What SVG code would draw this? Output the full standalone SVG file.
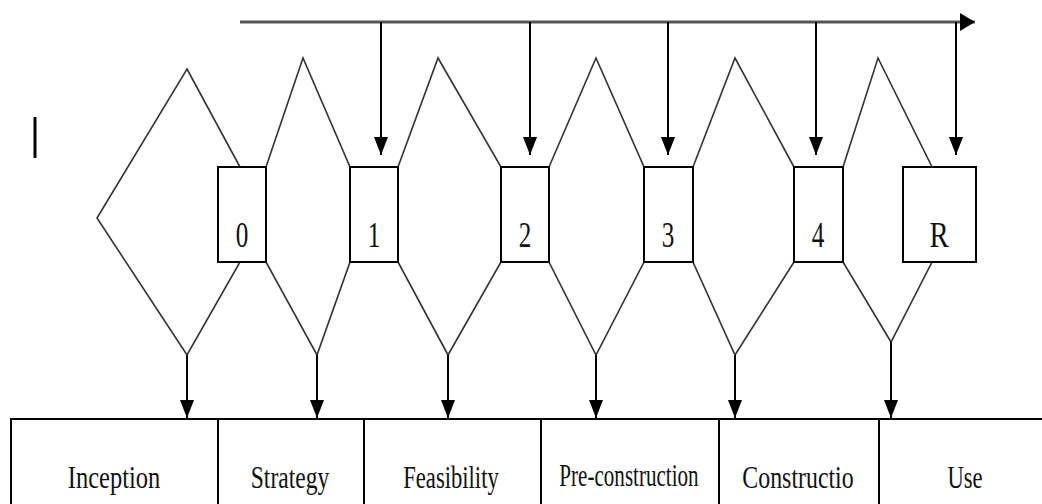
<svg xmlns="http://www.w3.org/2000/svg" width="1042" height="504" viewBox="0 0 1042 504">
  <style>
    .phase { fill: #fff; stroke: #333; stroke-width: 1.6; stroke-linejoin: miter; }
    .gate { fill: #fff; stroke: #000; stroke-width: 2; }
    .cell { fill: #fff; stroke: #000; stroke-width: 2; }
    .link { fill: none; stroke: #000; stroke-width: 2; }
    .feed { fill: none; stroke: #555; stroke-width: 3; }
    .num { font-family: "Liberation Serif", "Times New Roman", serif; font-size: 36px; fill: #111; text-anchor: middle; }
    .lbl { font-family: "Liberation Serif", "Times New Roman", serif; font-size: 31px; fill: #111; text-anchor: middle; }
  </style>
  <defs>
    <marker id="arrow" viewBox="0 0 18 14" refX="18" refY="7" markerWidth="18" markerHeight="14" markerUnits="userSpaceOnUse" orient="auto">
      <path d="M0,0 L18,7 L0,14 z" fill="#000"/>
    </marker>
    <marker id="arrowTop" viewBox="0 0 15 18" refX="15" refY="9" markerWidth="15" markerHeight="18" markerUnits="userSpaceOnUse" orient="auto">
      <path d="M0,0 L15,9 L0,18 z" fill="#000"/>
    </marker>
  </defs>

  <rect width="1042" height="504" fill="#fff"/>

  <!-- short vertical bar at left -->
  <line x1="35" y1="117" x2="35" y2="158" stroke="#000" stroke-width="3"/>

  <!-- phase diamonds -->
  <g id="phase-inception"><polygon class="phase" points="187,69 240,167 240,262 187,355 97,218"/></g>
  <g id="phase-strategy"><polygon class="phase" points="266,167 303,58 350,167 350,262 317,355 266,262"/></g>
  <g id="phase-feasibility"><polygon class="phase" points="398,167 438,58 501,167 501,262 448,355 398,262"/></g>
  <g id="phase-preconstruction"><polygon class="phase" points="549,167 596,58 644,167 644,262 596,355 549,262"/></g>
  <g id="phase-construction"><polygon class="phase" points="693,167 735,58 794,167 794,262 735,355 693,262"/></g>
  <g id="phase-use"><polygon class="phase" points="843,167 878,58 932,167 932,262 891,342 843,262"/></g>

  <!-- gates -->
  <g id="gate-0"><rect class="gate" x="218" y="167" width="48" height="95"/><text class="num" transform="translate(242,247) scale(0.7,1)">0</text></g>
  <g id="gate-1"><rect class="gate" x="350" y="167" width="48" height="95"/><text class="num" transform="translate(374,247) scale(0.7,1)">1</text></g>
  <g id="gate-2"><rect class="gate" x="501" y="167" width="48" height="95"/><text class="num" transform="translate(525,247) scale(0.7,1)">2</text></g>
  <g id="gate-3"><rect class="gate" x="644" y="167" width="49" height="95"/><text class="num" transform="translate(668,247) scale(0.7,1)">3</text></g>
  <g id="gate-4"><rect class="gate" x="794" y="167" width="49" height="95"/><text class="num" transform="translate(818,247) scale(0.7,1)">4</text></g>
  <g id="gate-r"><rect class="gate" x="903" y="167" width="73" height="95"/><text class="num" transform="translate(939,247) scale(0.8,1)">R</text></g>

  <!-- stage cells -->
  <g id="stage-inception"><rect class="cell" x="11" y="419" width="207" height="100"/><text class="lbl" transform="translate(114,488) scale(0.79,1)">Inception</text></g>
  <g id="stage-strategy"><rect class="cell" x="218" y="419" width="146" height="100"/><text class="lbl" transform="translate(290,488) scale(0.76,1)">Strategy</text></g>
  <g id="stage-feasibility"><rect class="cell" x="364" y="419" width="177" height="100"/><text class="lbl" transform="translate(451,488) scale(0.73,1)">Feasibility</text></g>
  <g id="stage-preconstruction"><rect class="cell" x="541" y="419" width="178" height="100"/><text class="lbl" transform="translate(629,486) scale(0.68,1)">Pre-construction</text></g>
  <g id="stage-construction"><rect class="cell" x="719" y="419" width="160" height="100"/><text class="lbl" transform="translate(798,488) scale(0.77,1)">Constructio</text></g>
  <g id="stage-use"><rect class="cell" x="879" y="419" width="180" height="100"/><text class="lbl" transform="translate(965,488) scale(0.73,1)">Use</text></g>

  <!-- connectors -->
  <g id="connectors">
    <line class="feed" x1="240" y1="22" x2="975" y2="22" marker-end="url(#arrowTop)"/>
    <line class="link" x1="381" y1="22" x2="381" y2="155" marker-end="url(#arrow)"/>
    <line class="link" x1="530" y1="22" x2="530" y2="155" marker-end="url(#arrow)"/>
    <line class="link" x1="668" y1="22" x2="668" y2="155" marker-end="url(#arrow)"/>
    <line class="link" x1="816" y1="22" x2="816" y2="155" marker-end="url(#arrow)"/>
    <line class="link" x1="956" y1="22" x2="956" y2="155" marker-end="url(#arrow)" stroke="#444"/>
    <line class="link" x1="187" y1="355" x2="187" y2="418" marker-end="url(#arrow)"/>
    <line class="link" x1="317" y1="355" x2="317" y2="418" marker-end="url(#arrow)"/>
    <line class="link" x1="448" y1="355" x2="448" y2="418" marker-end="url(#arrow)"/>
    <line class="link" x1="596" y1="355" x2="596" y2="418" marker-end="url(#arrow)"/>
    <line class="link" x1="735" y1="355" x2="735" y2="418" marker-end="url(#arrow)"/>
    <line class="link" x1="891" y1="342" x2="891" y2="418" marker-end="url(#arrow)"/>
  </g>
</svg>
